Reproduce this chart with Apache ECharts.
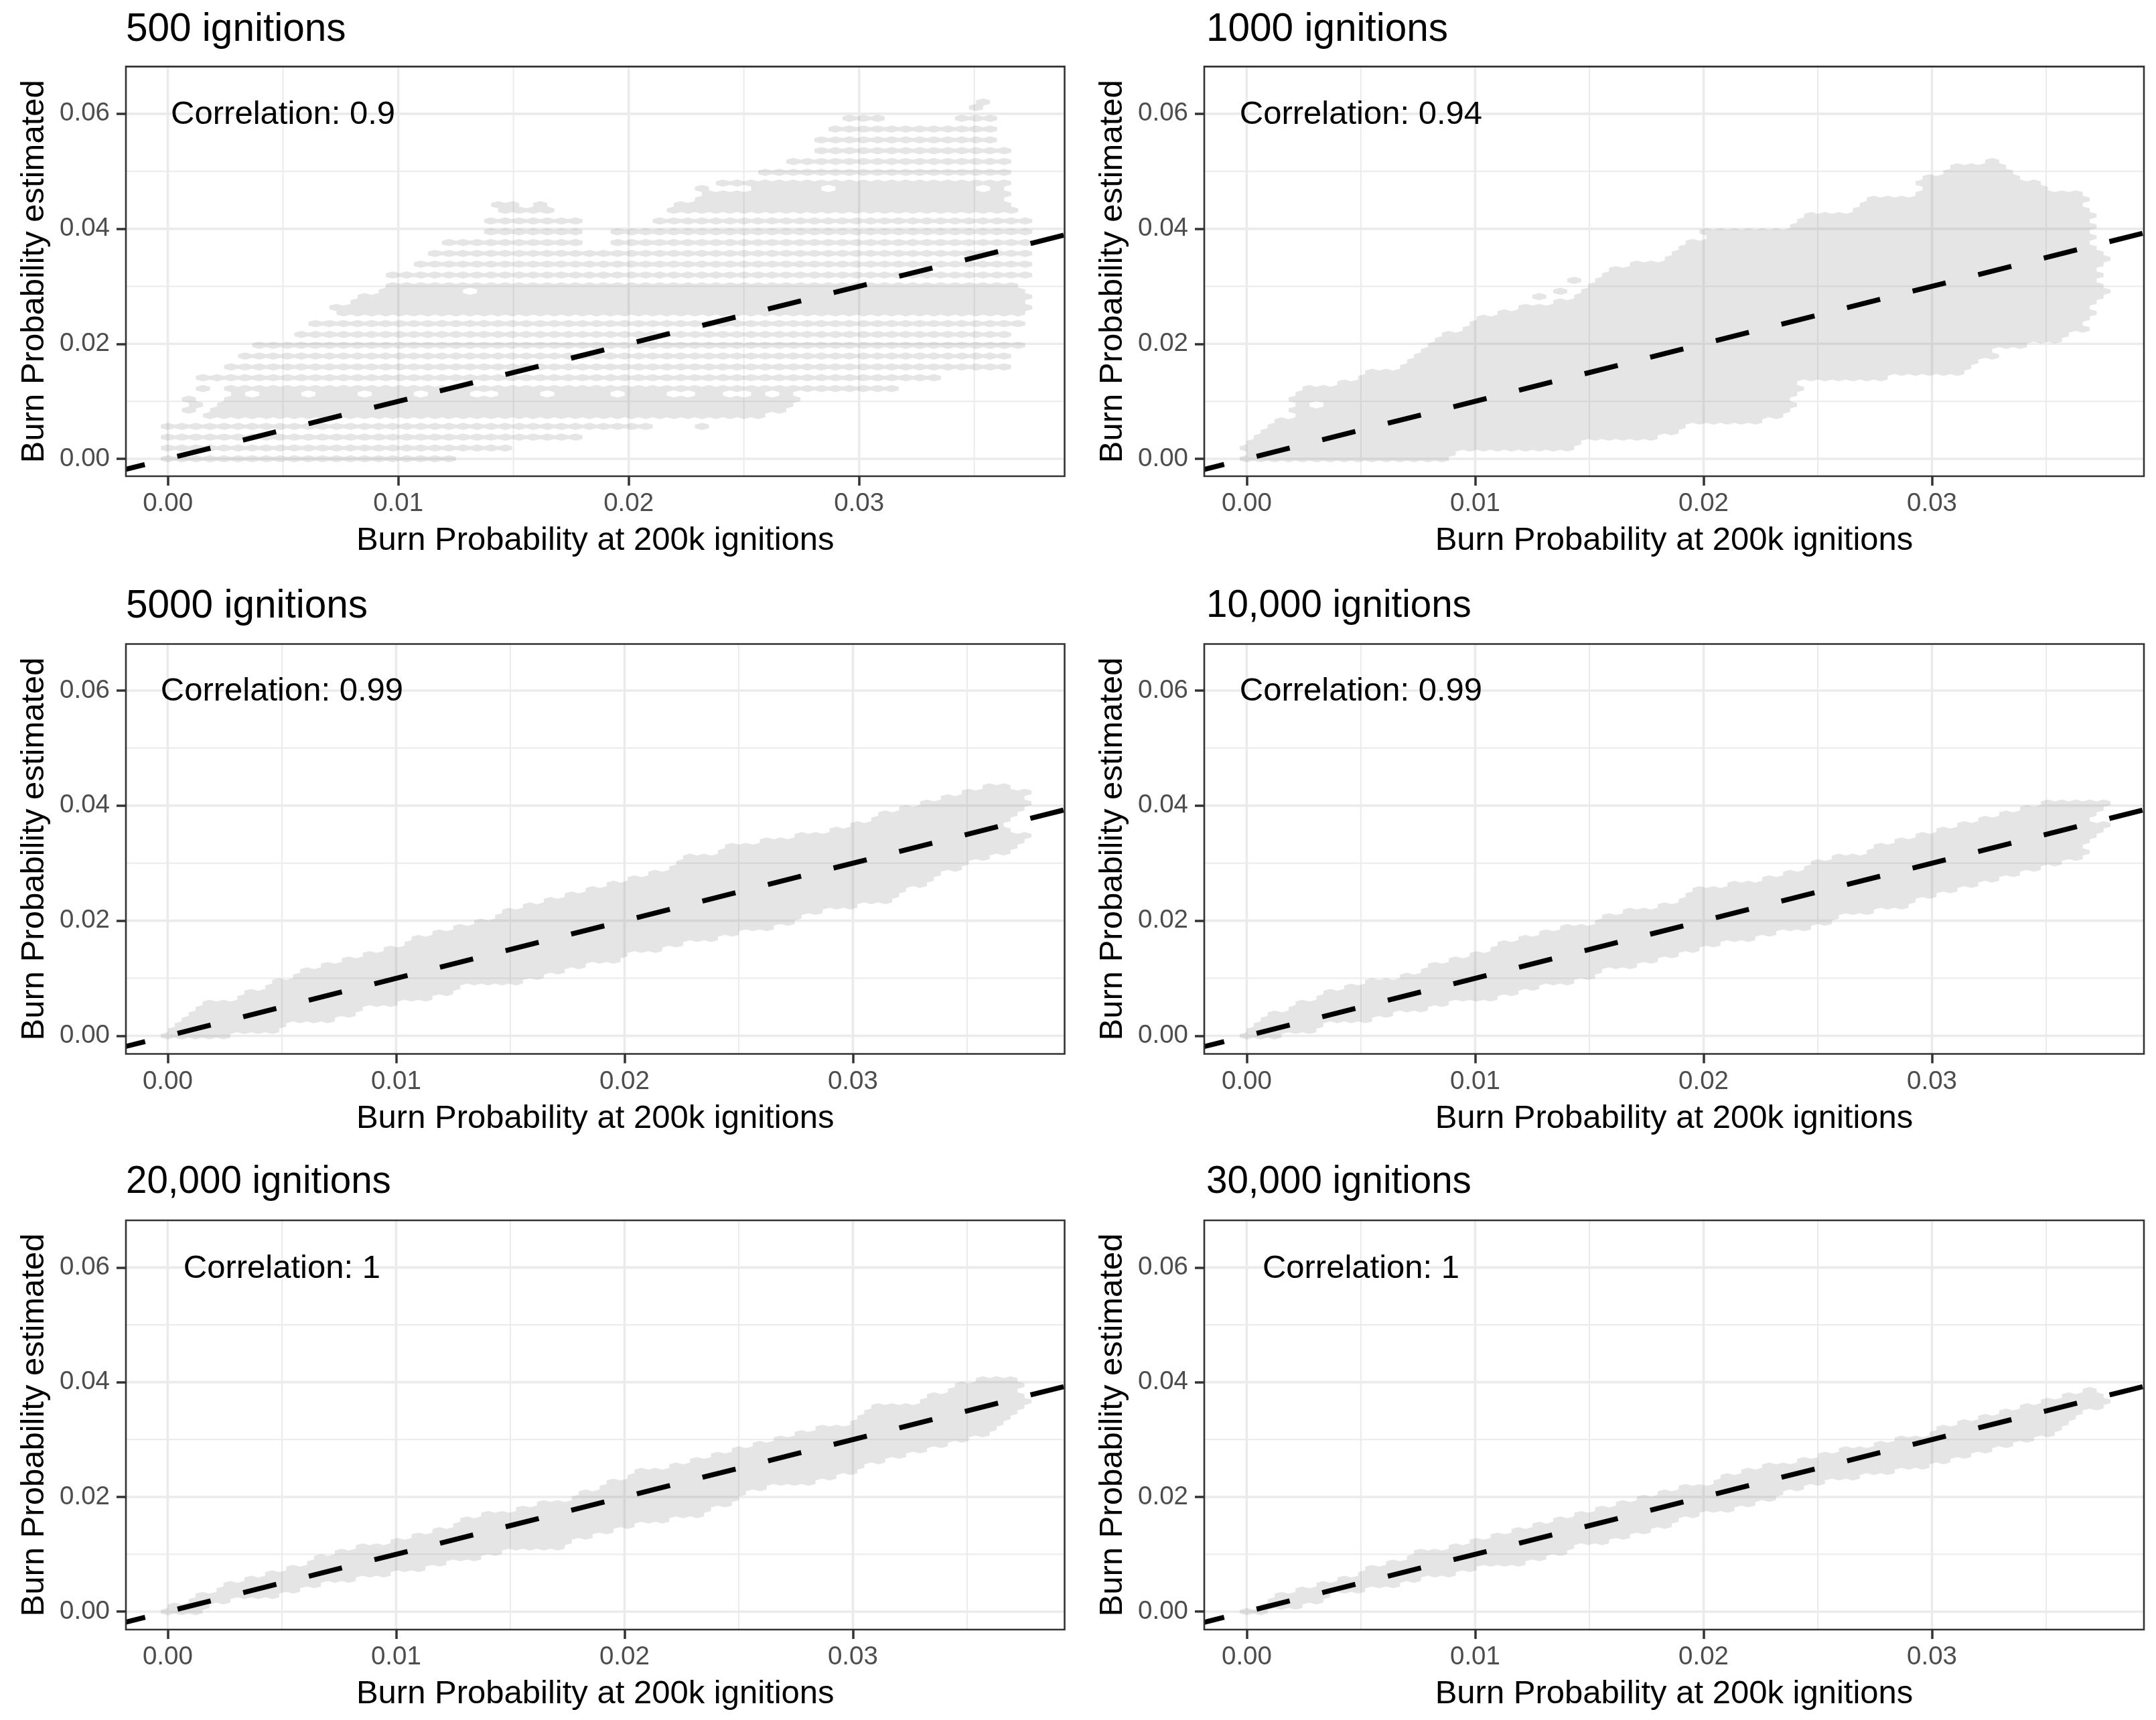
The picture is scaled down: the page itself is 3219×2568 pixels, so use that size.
<!DOCTYPE html>
<html><head><meta charset="utf-8">
<style>html,body{margin:0;padding:0;background:#fff}#c{width:3219px;height:2568px}</style>
<script src="https://cdn.jsdelivr.net/npm/echarts@6/dist/echarts.min.js"></script>
</head><body><div id="c"></div>
<script>
const titles = ['500 ignitions','1000 ignitions','5000 ignitions','10,000 ignitions','20,000 ignitions','30,000 ignitions'];
const correlations = ['Correlation: 0.9','Correlation: 0.94','Correlation: 0.99','Correlation: 0.99','Correlation: 1','Correlation: 1'];
const xTitle = 'Burn Probability at 200k ignitions';
const yTitle = 'Burn Probability estimated';
const xMajor = [0,0.01,0.02,0.03];
const xMinor = [0.005,0.015,0.025,0.035];
const yMajor = [0,0.02,0.04,0.06];
const yMinor = [0.01,0.03,0.05];
const identityEnds = [-0.00244,0.041];
const annotation = [0.005,0.06];
// occupied hexbin rows, in ten-thousandths: [estimated, first x, last x]
const rows500 = [[0,-3,127],[19,-3,151],[38,-3,182],[56,-3,213],[56,226,232],
[75,16,257],[85,7,12],[85,16,268],[94,10,15],[94,22,269],[103,7,12],[103,25,272],
[113,25,35],[113,40,59],[113,65,83],[113,90,108],[113,115,133],[113,145,164],[113,170,190],[113,200,214],[113,226,238],[113,251,257],[113,263,272],
[122,12,19],[122,25,315],[141,12,334],[160,25,364],[179,32,364],[197,38,370],[216,56,364],[235,62,370],
[254,76,372],[263,72,373],[273,77,373],[282,84,373],[291,92,126],[291,133,372],[301,97,372],
[320,97,373],[338,109,373],[357,115,373],[376,121,182],[376,190,373],[395,135,182],[395,190,373],[414,135,182],[414,208,373],
[432,141,153],[432,157,166],[432,219,368],[442,142,150],[442,157,166],[442,222,365],[451,226,362],[461,229,365],
[470,229,236],[470,251,282],[470,287,350],[470,356,362],[479,235,365],[498,254,365],[517,266,365],[536,278,365],[555,278,359],[573,285,359],
[592,291,309],[592,340,359],[611,347,353],[620,350,356]];
const rows1000 = [[0,-3,90],[9,-3,92],[19,-2,146],[28,0,149],[38,3,182],[47,6,191],[56,11,191],[66,14,224],[75,20,236],[85,20,238],
[94,20,27],[94,33,239],[103,20,239],[113,20,239],[122,26,241],[132,39,242],[141,47,281],[150,51,315],[160,65,315],[169,71,321],[179,74,327],
[188,77,328],[197,80,342],[207,83,354],[216,86,360],[226,93,366],[235,99,367],[244,102,369],[254,110,370],[263,119,372],[273,134,375],
[282,128,134],[282,142,377],[291,137,142],[291,148,377],[301,151,375],[310,143,149],[310,152,372],[320,154,373],[329,161,375],[338,170,377],
[348,182,377],[357,187,375],[367,188,373],[376,190,372],[385,199,372],[395,199,372],[404,235,372],[414,238,372],[423,247,372],[432,267,372],
[442,268,367],[451,270,366],[461,294,364],[470,295,348],[479,295,346],[489,298,337],[498,306,336],[508,307,331],[517,321,328]];
const rows5000 = [[0,-3,27],[9,-1,47],[19,2,53],[28,6,71],[38,9,80],[47,12,87],[56,17,99],[66,29,113],[75,36,125],[85,42,131],
[94,47,158],[103,53,164],[113,59,171],[122,68,185],[132,77,197],[141,86,203],[150,95,217],[160,102,226],[169,107,242],[179,117,251],
[188,122,265],[197,134,274],[207,143,275],[216,147,289],[226,155,299],[235,164,317],[244,171,319],[254,185,323],[263,192,331],[273,200,334],
[282,212,341],[291,217,346],[301,224,353],[310,227,361],[320,238,367],[329,245,371],[338,262,376],[348,275,376],[357,287,371],[367,299,365],
[376,305,367],[385,314,371],[395,323,374],[404,331,376],[414,340,376],[423,350,376],[432,356,371]];
const rows10000 = [[0,-3,14],[9,0,30],[19,3,32],[28,6,53],[38,11,65],[47,17,77],[56,21,89],[66,29,107],[75,35,119],[85,42,129],
[94,54,141],[103,66,150],[113,74,158],[122,80,171],[132,89,179],[141,96,188],[150,104,197],[160,111,209],[169,119,221],[179,126,230],
[188,140,245],[197,150,256],[207,156,260],[216,167,272],[226,180,289],[235,188,293],[244,195,302],[254,198,313],[263,212,319],[273,223,329],
[282,233,338],[291,242,346],[301,250,355],[310,259,365],[320,269,367],[329,277,368],[338,284,368],[348,290,371],[357,302,376],[367,314,376],
[376,320,371],[385,328,373],[395,337,376],[404,346,376]];
const rows20000 = [[0,-3,14],[9,3,20],[19,8,27],[28,14,47],[38,20,57],[47,27,68],[56,35,83],[66,43,96],[75,53,110],[85,60,123],
[94,65,137],[103,75,149],[113,84,173],[122,95,179],[132,104,186],[141,117,194],[150,125,206],[160,131,220],[169,138,232],[179,150,239],
[188,162,247],[197,174,251],[207,182,256],[216,188,265],[226,194,283],[235,200,292],[244,207,301],[254,220,307],[263,229,316],[273,238,325],
[282,247,332],[291,257,343],[301,265,353],[310,274,358],[320,286,361],[329,299,364],[338,302,368],[348,305,371],[357,308,374],[367,328,376],
[376,335,374],[385,343,371],[395,347,373],[404,352,371]];
const rows30000 = [[0,-3,12],[9,4,24],[19,10,32],[28,14,36],[38,20,49],[47,30,69],[56,39,78],[66,49,90],[75,53,102],[85,60,123],
[94,71,133],[103,75,139],[113,86,145],[122,95,160],[132,104,166],[141,113,175],[150,122,187],[160,134,191],[169,145,196],[179,154,212],
[188,163,223],[197,173,229],[207,179,236],[216,187,244],[226,203,256],[235,208,270],[244,214,285],[254,227,298],[263,239,309],[273,250,318],
[282,262,325],[291,273,334],[301,285,345],[310,300,351],[320,304,357],[329,313,360],[338,322,363],[348,330,367],[357,340,373],[367,346,376],
[376,357,376],[385,366,375]];
const panelRows = [rows500,rows1000,rows5000,rows10000,rows20000,rows30000];

// layout and hexagon geometry
const W = 1401.5;
const layout = [
 {l:188, tl:188, t:99.4, w:W, h:611.6, xr:[-0.00182,0.03892], yr:[-0.00303,0.06821], tt:15, fs:58.5},
 {l:1798, tl:1801, t:99.4, w:1403, h:611.6, xr:[-0.00186,0.03928], yr:[-0.00303,0.06821], tt:15, fs:58.5},
 {l:188, tl:188, t:961.5, w:W, h:612, xr:[-0.00183,0.03927], yr:[-0.00314,0.06808], tt:876, fs:58.5},
 {l:1798, tl:1801, t:961.5, w:1403, h:612, xr:[-0.00186,0.03928], yr:[-0.00314,0.06808], tt:877, fs:56.5},
 {l:188, tl:188, t:1822, w:W, h:611, xr:[-0.00183,0.03927], yr:[-0.00313,0.06822], tt:1737, fs:56.5},
 {l:1798, tl:1801, t:1822, w:1403, h:611, xr:[-0.00186,0.03928], yr:[-0.00313,0.06822], tt:1737, fs:56.5}
];
const binW = 0.00061, binH = 0.00094;
const FONT = '"Liberation Sans", Arial, sans-serif';

function hexPath(rows, api){
  let d = '';
  rows.forEach(r=>{
    const n=Math.round(r[0]/1e4/binH), y=n*binH, x0=r[1]/1e4, x1=r[2]/1e4;
    const ph=(n%2)?0.5:0;
    const k0=Math.round((x0+binW/2)/binW-ph);
    const k1=Math.max(k0,Math.round((x1-binW/2)/binW-ph));
    for(let k=k0;k<=k1;k++){
      const cx=(k+ph)*binW;
      const pts=[[cx-binW/2,y-binH/3],[cx,y-2*binH/3],[cx+binW/2,y-binH/3],[cx+binW/2,y+binH/3],[cx,y+2*binH/3],[cx-binW/2,y+binH/3]];
      pts.forEach((p,i)=>{const c=api.coord(p); d+=(i?'L':'M')+c[0].toFixed(2)+' '+c[1].toFixed(2);});
      d+='Z';
    }
  });
  return d;
}

const grid=[],xAxis=[],yAxis=[],series=[],title=[];
layout.forEach((p,i)=>{
  grid.push({left:p.l,top:p.t,width:p.w,height:p.h,show:false,containLabel:false});
  xAxis.push({type:'value',gridIndex:i,min:p.xr[0],max:p.xr[1],
    name:xTitle,nameLocation:'middle',nameGap:72,
    nameTextStyle:{fontFamily:FONT,fontSize:49,color:'#000'},
    axisLine:{show:false,onZero:false},splitLine:{show:false},
    axisTick:{show:true,length:14,customValues:xMajor,lineStyle:{color:'#333',width:3.5}},
    axisLabel:{show:true,customValues:xMajor,margin:22,fontFamily:FONT,fontSize:38.5,color:'#4d4d4d',formatter:v=>v.toFixed(2)}});
  yAxis.push({type:'value',gridIndex:i,min:p.yr[0],max:p.yr[1],
    name:yTitle,nameLocation:'middle',nameGap:112,
    nameTextStyle:{fontFamily:FONT,fontSize:49,color:'#000'},
    axisLine:{show:false,onZero:false},splitLine:{show:false},
    axisTick:{show:true,length:14,customValues:yMajor,lineStyle:{color:'#333',width:3.5}},
    axisLabel:{show:true,customValues:yMajor,margin:24,padding:[6,0,0,0],fontFamily:FONT,fontSize:38.5,color:'#4d4d4d',formatter:v=>v.toFixed(2)}});
  title.push({text:titles[i],left:p.tl,top:p.tt,padding:0,textStyle:{fontFamily:FONT,fontSize:p.fs,fontWeight:'normal',color:'#000'}});
  const gridData=[];
  xMajor.forEach(v=>gridData.push(['x',v,1])); xMinor.forEach(v=>gridData.push(['x',v,0]));
  yMajor.forEach(v=>gridData.push(['y',v,1])); yMinor.forEach(v=>gridData.push(['y',v,0]));
  series.push({type:'custom',xAxisIndex:i,yAxisIndex:i,z:1,silent:true,clip:true,
    data:gridData.map((g,j)=>[j]),
    renderItem:(params,api)=>{
      const g=gridData[params.dataIndex];
      const a=g[0]==='x'?api.coord([g[1],p.yr[0]]):api.coord([p.xr[0],g[1]]);
      const b=g[0]==='x'?api.coord([g[1],p.yr[1]]):api.coord([p.xr[1],g[1]]);
      return {type:'line',shape:{x1:a[0],y1:a[1],x2:b[0],y2:b[1]},style:{stroke:'#ebebeb',lineWidth:g[2]?3.6:2}};
    }});
  const rows=panelRows[i];
  series.push({type:'custom',name:titles[i],xAxisIndex:i,yAxisIndex:i,z:2,silent:true,clip:true,progressive:0,
    data:rows.map(r=>[r[1]/1e4,r[0]/1e4,r[2]/1e4]),
    encode:{x:[0,2],y:1},
    renderItem:(params,api)=>{
      if(params.dataIndex!==0) return null;
      return {type:'path',shape:{pathData:hexPath(rows,api)},style:{fill:'rgba(127,127,127,0.2)',stroke:null}};
    }});
  series.push({type:'custom',xAxisIndex:i,yAxisIndex:i,z:3,silent:true,clip:true,
    data:[[identityEnds[0],identityEnds[0]],[identityEnds[1],identityEnds[1]]],
    renderItem:(params,api)=>{
      if(params.dataIndex!==0) return null;
      const a=api.coord([identityEnds[0],identityEnds[0]]),b=api.coord([identityEnds[1],identityEnds[1]]);
      return {type:'line',shape:{x1:a[0],y1:a[1],x2:b[0],y2:b[1]},style:{stroke:'#000',lineWidth:7.5,lineDash:[51,50],lineCap:'butt'}};
    }});
  series.push({type:'custom',xAxisIndex:i,yAxisIndex:i,z:5,silent:true,clip:false,
    data:[[annotation[0],annotation[1]]],
    renderItem:(params,api)=>{
      const a=api.coord([p.xr[0],p.yr[1]]),b=api.coord([p.xr[1],p.yr[0]]),c=api.coord(annotation);
      return {type:'group',children:[
        {type:'rect',shape:{x:a[0],y:a[1],width:b[0]-a[0],height:b[1]-a[1]},style:{fill:null,stroke:'#333',lineWidth:2.6}},
        {type:'text',x:c[0],y:c[1]+2,style:{text:correlations[i],fontFamily:FONT,fontSize:49,fill:'#000',textAlign:'center',textVerticalAlign:'middle'}}
      ]};
    }});
});
const chart=echarts.init(document.getElementById('c'),null,{renderer:'canvas',width:3219,height:2568});
chart.setOption({animation:false,backgroundColor:'#fff',title,grid,xAxis,yAxis,series});
</script></body></html>
